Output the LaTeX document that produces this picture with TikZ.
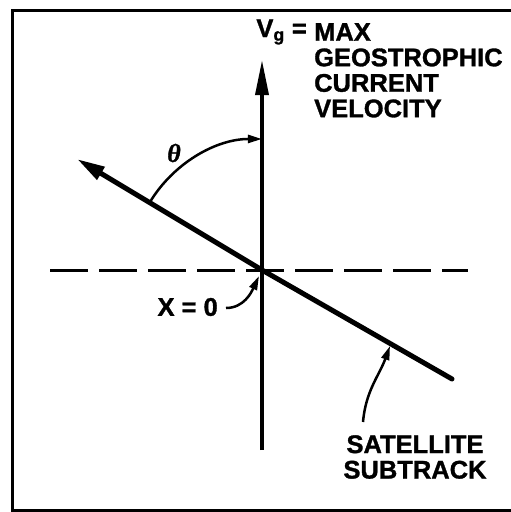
\documentclass[tikz,border=0pt]{standalone}
\usepackage{fontspec}
\setmainfont{Liberation Sans}[BoldFeatures={FakeBold=1.2}]
\newfontfamily\thfont{Liberation Serif}[BoldItalicFeatures={FakeBold=1}]
\usetikzlibrary{arrows.meta,calc}
\begin{document}
\begin{tikzpicture}[x=1pt,y=-1pt,
  lbl/.style={font=\fontsize{25.5}{25.5}\selectfont\bfseries, inner sep=0pt},
  frameline/.style={line width=3pt},
  axisline/.style={line width=3.5pt},
  trackline/.style={line width=5pt, line cap=round},
  dashline/.style={line width=3pt, dash pattern=on 38pt off 11pt},
  pointer/.style={line width=2.5pt, -{Triangle[length=14pt,width=8pt]}}
]
\useasboundingbox (0,0) rectangle (511,512);
% frame (open on the right)
\draw[frameline, line join=miter] (511,10) -- (12,10) -- (12,510) -- (511,510);
% coordinates
\coordinate (O) at (262,270);
\coordinate (axtop) at (262,60);
\coordinate (axbot) at (262,450);
\coordinate (dl) at (50,270);
\coordinate (dr) at (468,270);
\coordinate (trA) at (77,159);
\coordinate (trB) at (452,379);
\coordinate (trP) at (390,346);
% dashed horizontal
\draw[dashline] (dl) -- (dr);
% vertical axis
\draw[axisline, -{Triangle[length=35pt,width=13pt]}] (axbot) -- (axtop);
% subtrack
\draw[trackline] (O) -- (trB);
\draw[line width=5pt, -{Triangle[length=28pt,width=14pt]}] (O) -- (trA);
% theta arc
\draw[pointer] ($(O)+(-112.3,-67.5)$) arc[start angle=149, end angle=90, radius=131pt];
\node[font=\fontsize{26}{26}\selectfont\thfont\bfseries\itshape, inner sep=0pt] (th) at (174,153) {θ};
% labels
\node[lbl, anchor=east] (vg) at (307,32) {V\textsubscript{g} =};
\node[lbl, anchor=north west, align=left] (vgtxt) at (314,23) {MAX\\GEOSTROPHIC\\CURRENT\\VELOCITY};
\node[lbl, anchor=east] (x0) at (218,307) {X = 0};
\node[lbl, align=center] (sat) at (415,457) {SATELLITE\\SUBTRACK};
% pointers
\draw[pointer] (x0.east) ++(8,1) to[out=0, in=-115] ($(O)+(-3,6)$);
\draw[pointer] (363,422) to[out=85, in=-110] (trP);
\end{tikzpicture}
\end{document}
